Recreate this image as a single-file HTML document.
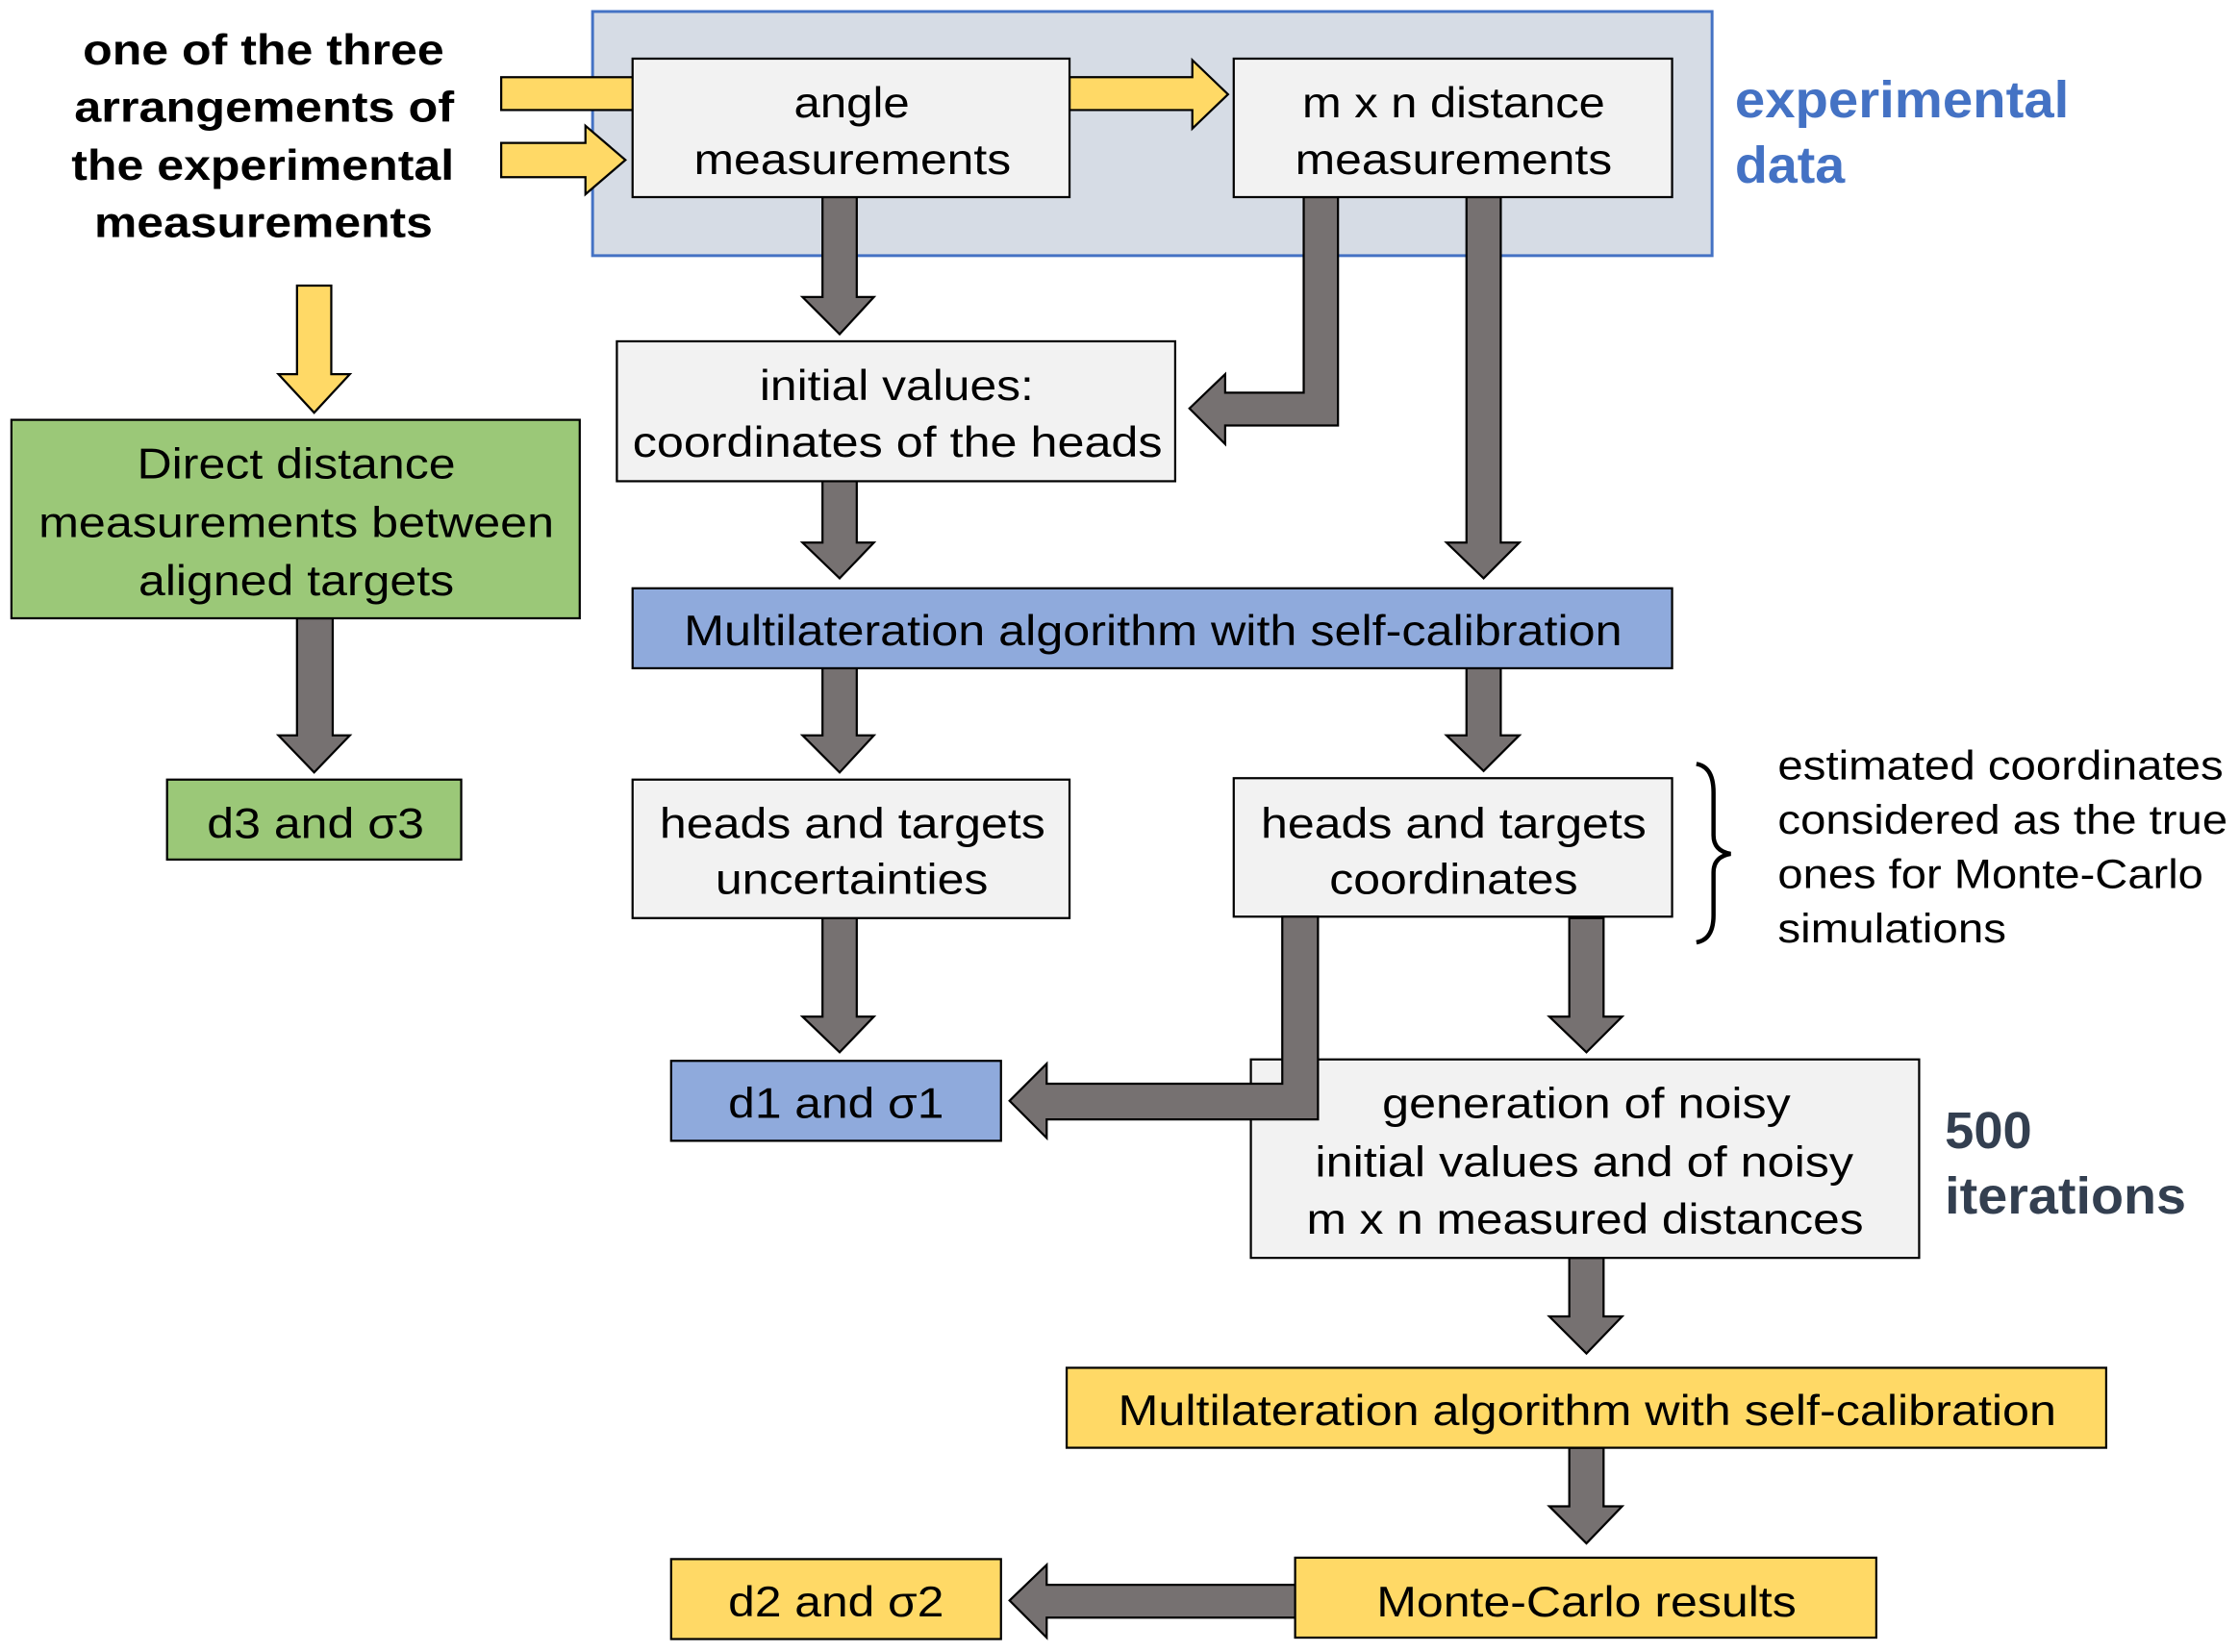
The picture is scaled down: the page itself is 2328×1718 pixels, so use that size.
<!DOCTYPE html>
<html><head><meta charset="utf-8"><style>
html,body{margin:0;padding:0;background:#fff;}
svg{display:block;}
</style></head><body>
<svg width="2328" height="1718" viewBox="0 0 1568 1157" xmlns="http://www.w3.org/2000/svg">
<rect x="0" y="0" width="1568" height="1157" fill="#fff"/>
<rect x="415" y="8" width="784" height="171" fill="#d6dce5" stroke="#4472c4" stroke-width="2"/>
<g fill="#ffd966" stroke="#000" stroke-width="1.5">
<rect x="351" y="54" width="95" height="23"/>
<polygon points="351,100 410,100 410,88 438,112 410,136 410,124 351,124"/>
<polygon points="749,54 835,54 835,42 860,66 835,90 835,77 749,77"/>
<polygon points="208,200 232,200 232,262 245,262 220,289 195,262 208,262"/>
</g>
<g fill="#767171" stroke="#000" stroke-width="1.5">
<polygon points="208,433 233,433 233,515 245,515 220,541 195,515 208,515"/>
<polygon points="576,138 600,138 600,208 612,208 588,234 562,208 576,208"/>
<polygon points="913,138 937,138 937,298 858,298 858,311 833,286 858,262 858,275 913,275"/>
<polygon points="1027,138 1051,138 1051,380 1064,380 1039,405 1013,380 1027,380"/>
<polygon points="576,337 600,337 600,380 612,380 588,405 562,380 576,380"/>
<polygon points="576,468 600,468 600,515 612,515 588,541 562,515 576,515"/>
<polygon points="1027,468 1051,468 1051,515 1064,515 1039,540 1013,515 1027,515"/>
<polygon points="576,643 600,643 600,712 612,712 588,737 562,712 576,712"/>
<polygon points="1099,643 1123,643 1123,712 1136,712 1111,737 1085,712 1099,712"/>
<polygon points="1099,881 1123,881 1123,922 1136,922 1111,948 1085,922 1099,922"/>
<polygon points="1099,1014 1123,1014 1123,1055 1136,1055 1111,1081 1085,1055 1099,1055"/>
<polygon points="907,1110 907,1133 733,1133 733,1147 707,1121 733,1096 733,1110"/>
</g>
<g stroke="#000" stroke-width="1.5">
<rect x="443" y="41" width="306" height="97" fill="#f2f2f2"/>
<rect x="864" y="41" width="307" height="97" fill="#f2f2f2"/>
<rect x="8" y="294" width="398" height="139" fill="#9bc878"/>
<rect x="117" y="546" width="206" height="56" fill="#9bc878"/>
<rect x="432" y="239" width="391" height="98" fill="#f2f2f2"/>
<rect x="443" y="412" width="728" height="56" fill="#8faadc"/>
<rect x="443" y="546" width="306" height="97" fill="#f2f2f2"/>
<rect x="864" y="545" width="307" height="97" fill="#f2f2f2"/>
<rect x="470" y="743" width="231" height="56" fill="#8faadc"/>
<rect x="876" y="742" width="468" height="139" fill="#f2f2f2"/>
<rect x="747" y="958" width="728" height="56" fill="#ffd966"/>
<rect x="907" y="1091" width="407" height="56" fill="#ffd966"/>
<rect x="470" y="1092" width="231" height="56" fill="#ffd966"/>
</g>
<polygon points="898,642 923,642 923,784 733,784 733,797 707,771 733,745 733,759 898,759" fill="#767171" stroke="#000" stroke-width="1.5"/>
<path d="M1188,535 Q1200,537 1200,555 L1200,585 Q1200,596 1212,598 Q1200,600 1200,611 L1200,641 Q1200,658 1188,660" fill="none" stroke="#000" stroke-width="3"/>
<g font-family="Arial, Liberation Sans, Helvetica, sans-serif" font-size="30" fill="#000">
<text x="556" y="82" textLength="81" lengthAdjust="spacingAndGlyphs">angle</text>
<text x="486" y="122" textLength="222" lengthAdjust="spacingAndGlyphs">measurements</text>
<text x="912" y="82" textLength="212" lengthAdjust="spacingAndGlyphs">m x n distance</text>
<text x="907" y="122" textLength="222" lengthAdjust="spacingAndGlyphs">measurements</text>
<text x="96" y="335" textLength="223" lengthAdjust="spacingAndGlyphs">Direct distance</text>
<text x="27" y="376" textLength="361" lengthAdjust="spacingAndGlyphs">measurements between</text>
<text x="97" y="417" textLength="221" lengthAdjust="spacingAndGlyphs">aligned targets</text>
<text x="145" y="587" textLength="152" lengthAdjust="spacingAndGlyphs">d3 and σ3</text>
<text x="532" y="280" textLength="192" lengthAdjust="spacingAndGlyphs">initial values:</text>
<text x="443" y="320" textLength="371" lengthAdjust="spacingAndGlyphs">coordinates of the heads</text>
<text x="479" y="452" textLength="657" lengthAdjust="spacingAndGlyphs">Multilateration algorithm with self-calibration</text>
<text x="462" y="587" textLength="270" lengthAdjust="spacingAndGlyphs">heads and targets</text>
<text x="501" y="626" textLength="191" lengthAdjust="spacingAndGlyphs">uncertainties</text>
<text x="883" y="587" textLength="270" lengthAdjust="spacingAndGlyphs">heads and targets</text>
<text x="931" y="626" textLength="174" lengthAdjust="spacingAndGlyphs">coordinates</text>
<text x="510" y="783" textLength="151" lengthAdjust="spacingAndGlyphs">d1 and σ1</text>
<text x="968" y="783" textLength="286" lengthAdjust="spacingAndGlyphs">generation of noisy</text>
<text x="921" y="824" textLength="377" lengthAdjust="spacingAndGlyphs">initial values and of noisy</text>
<text x="915" y="864" textLength="390" lengthAdjust="spacingAndGlyphs">m x n measured distances</text>
<text x="783" y="998" textLength="657" lengthAdjust="spacingAndGlyphs">Multilateration algorithm with self-calibration</text>
<text x="964" y="1132" textLength="294" lengthAdjust="spacingAndGlyphs">Monte-Carlo results</text>
<text x="510" y="1132" textLength="151" lengthAdjust="spacingAndGlyphs">d2 and σ2</text>
</g>
<g font-family="Arial, Liberation Sans, Helvetica, sans-serif" font-size="28.5" fill="#000">
<text x="1245" y="546" textLength="312" lengthAdjust="spacingAndGlyphs">estimated coordinates</text>
<text x="1245" y="584" textLength="315" lengthAdjust="spacingAndGlyphs">considered as the true</text>
<text x="1245" y="622" textLength="298" lengthAdjust="spacingAndGlyphs">ones for Monte-Carlo</text>
<text x="1245" y="660" textLength="160" lengthAdjust="spacingAndGlyphs">simulations</text>
</g>
<g font-family="Arial, Liberation Sans, Helvetica, sans-serif" font-size="30" font-weight="bold" fill="#000">
<text x="58" y="45" textLength="253" lengthAdjust="spacingAndGlyphs">one of the three</text>
<text x="52" y="85" textLength="266" lengthAdjust="spacingAndGlyphs">arrangements of</text>
<text x="50" y="126" textLength="268" lengthAdjust="spacingAndGlyphs">the experimental</text>
<text x="66" y="166" textLength="237" lengthAdjust="spacingAndGlyphs">measurements</text>
</g>
<g font-family="Arial, Liberation Sans, Helvetica, sans-serif" font-size="36" font-weight="bold" fill="#4472c4">
<text x="1215" y="82" textLength="234" lengthAdjust="spacingAndGlyphs">experimental</text>
<text x="1215" y="128" textLength="77" lengthAdjust="spacingAndGlyphs">data</text>
</g>
<g font-family="Arial, Liberation Sans, Helvetica, sans-serif" font-size="36" font-weight="bold" fill="#333f50">
<text x="1362" y="804" textLength="61" lengthAdjust="spacingAndGlyphs">500</text>
<text x="1362" y="850" textLength="169" lengthAdjust="spacingAndGlyphs">iterations</text>
</g>
</svg>
</body></html>
